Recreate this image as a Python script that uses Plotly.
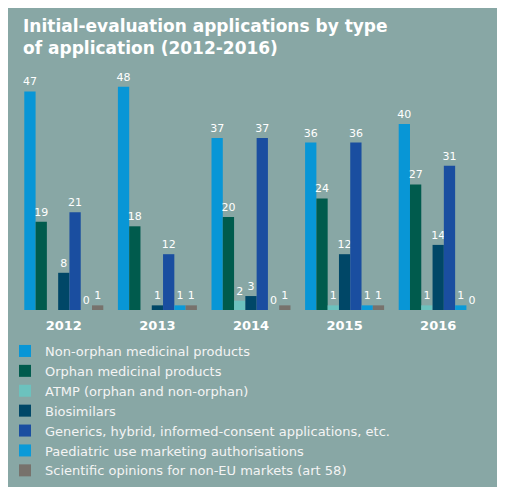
import plotly.graph_objects as go

years = ["2012", "2013", "2014", "2015", "2016"]
series_names = [
    "Non-orphan medicinal products",
    "Orphan medicinal products",
    "ATMP (orphan and non-orphan)",
    "Biosimilars",
    "Generics, hybrid, informed-consent applications, etc.",
    "Paediatric use marketing authorisations",
    "Scientific opinions for non-EU markets (art 58)",
]
non_orphan = [47, 48, 37, 36, 40]
orphan = [19, 18, 20, 24, 27]
atmp = [None, None, 2, 1, 1]
biosimilars = [8, 1, 3, 12, 14]
generics = [21, 12, 37, 36, 31]
paediatric = [0, 1, 0, 1, 1]
art58 = [1, 1, 1, 1, 0]

colors = ["#0896d6", "#005b4d", "#6cc2be", "#004767", "#1a4ea0", "#0a9ad8", "#77726c"]
all_values = [non_orphan, orphan, atmp, biosimilars, generics, paediatric, art58]

# page body has an 8px default margin; figure sized to fill the 505x495 window exactly
OFF = 8
W, H = 505 - 2 * OFF, 495 - 2 * OFF
# desired plot area in screen pixels
SX0, SX1, SY0, SY1 = 17, 485, 70, 310
ML, MR = SX0 - OFF, W - (SX1 - OFF)
MT, MB = SY0 - OFF, H - (SY1 - OFF)
PW, PH = W - ML - MR, H - MT - MB
BG = "#88a7a5"

fig = go.Figure()
for name, vals, col in zip(series_names, all_values, colors):
    fig.add_trace(go.Bar(
        x=years, y=vals, name=name, marker_color=col, marker_line_width=0,
        text=[("" if v is None else str(v)) for v in vals],
        textposition="outside", cliponaxis=False, constraintext="none",
        textfont=dict(family="DejaVu Sans", size=11, color="#ffffff"),
    ))

def px_x(p):  # screen px -> paper
    return (p - SX0) / PW

def px_y(p):
    return (SY1 - p) / PH

fig.add_shape(type="rect", xref="paper", yref="paper",
              x0=px_x(6), x1=px_x(500), y0=px_y(488), y1=px_y(4),
              fillcolor=BG, line_width=0, layer="below")

fig.add_annotation(
    text="Initial-evaluation applications by type<br>of application (2012-2016)",
    xref="paper", yref="paper", x=px_x(21), y=px_y(14),
    xanchor="left", yanchor="top", align="left", showarrow=False,
    font=dict(family="DejaVu Sans", size=17, color="#ffffff", weight="bold"),
)

fig.update_layout(
    width=W, height=H,
    margin=dict(l=ML, r=MR, t=MT, b=MB, autoexpand=False),
    paper_bgcolor="#ffffff", plot_bgcolor="rgba(0,0,0,0)",
    barmode="group", bargap=0.156, bargroupgap=0,
    xaxis=dict(showgrid=False, zeroline=False, showline=False, ticks="",
               tickfont=dict(family="DejaVu Sans", size=13, color="#ffffff", weight="bold"),
               ticklabelstandoff=6),
    yaxis=dict(visible=False, range=[0, PH / 4.65]),
    legend=dict(x=px_x(5), xanchor="left", y=px_y(336), yanchor="top",
                font=dict(family="DejaVu Sans", size=13, color="#f4f4f4"),
                bgcolor="rgba(0,0,0,0)", tracegroupgap=0, itemwidth=30,
                traceorder="normal"),
    showlegend=True,
)

fig.write_html("out.html")
